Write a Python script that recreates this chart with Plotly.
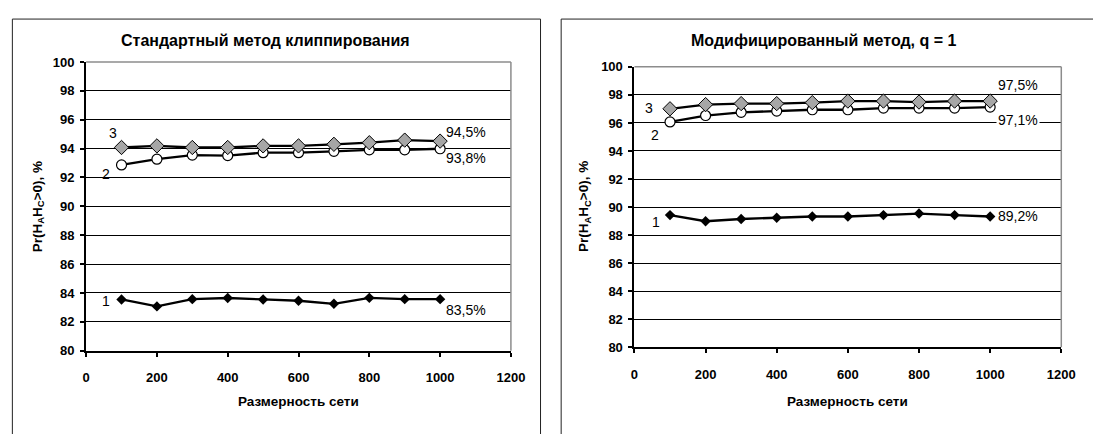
import plotly.graph_objects as go

W, H = 1093, 434

x_vals = [100, 200, 300, 400, 500, 600, 700, 800, 900, 1000]

# Left panel: standard clipping method
std_s1 = [83.55, 83.07, 83.57, 83.65, 83.55, 83.46, 83.25, 83.66, 83.57, 83.57]
std_s2 = [92.87, 93.27, 93.55, 93.52, 93.72, 93.72, 93.81, 93.92, 93.92, 93.99]
std_s3 = [94.08, 94.19, 94.08, 94.08, 94.19, 94.19, 94.30, 94.41, 94.59, 94.52]

# Right panel: modified method, q = 1
mod_s1 = [89.43, 88.99, 89.15, 89.24, 89.33, 89.33, 89.43, 89.54, 89.43, 89.33]
mod_s2 = [96.07, 96.53, 96.76, 96.85, 96.94, 96.94, 97.06, 97.06, 97.06, 97.13]
mod_s3 = [97.01, 97.31, 97.38, 97.38, 97.45, 97.56, 97.56, 97.49, 97.56, 97.56]

titles = ["Стандартный метод клиппирования", "Модифицированный метод, q = 1"]
x_title = "Размерность сети"
y_title = "Pr(H<sub>A</sub>H<sub>C</sub>>0), %"

y_ticks = [80, 82, 84, 86, 88, 90, 92, 94, 96, 98, 100]
x_ticks = [0, 200, 400, 600, 800, 1000, 1200]

FONT = "Liberation Sans, Arial, sans-serif"

def px_x(p):
    return p / W

def px_y(p):
    return 1 - p / H

# plot-area pixel boxes (left, right, top, bottom)
boxes = [(83.5, 515.4, 57, 356), (641, 1075, 62, 352.5)]

fig = go.Figure()

def add_series(xa, ya, s1, s2, s3):
    fig.add_trace(go.Scatter(x=x_vals, y=s2, xaxis=xa, yaxis=ya, mode="lines+markers",
                             line=dict(color="black", width=2.3),
                             marker=dict(symbol="circle", size=10, color="white",
                                         line=dict(color="black", width=1.2)),
                             showlegend=False))
    fig.add_trace(go.Scatter(x=x_vals, y=s3, xaxis=xa, yaxis=ya, mode="lines+markers",
                             line=dict(color="black", width=2.3),
                             marker=dict(symbol="diamond", size=11, color="#a6a6a6",
                                         line=dict(color="black", width=1)),
                             showlegend=False))
    fig.add_trace(go.Scatter(x=x_vals, y=s1, xaxis=xa, yaxis=ya, mode="lines+markers",
                             line=dict(color="black", width=2.3),
                             marker=dict(symbol="diamond", size=8, color="black"),
                             showlegend=False))

add_series("x", "y", std_s1, std_s2, std_s3)
add_series("x2", "y2", mod_s1, mod_s2, mod_s3)

axis_common_x = dict(range=[0, 1200], tickvals=x_ticks, showgrid=False, zeroline=False,
                     showline=True, linecolor="black", linewidth=2,
                     ticks="outside", ticklen=4, tickwidth=2, tickcolor="black",
                     tickfont=dict(family=FONT, size=13, color="black", weight="bold"),
                     ticklabelstandoff=10)
axis_common_y = dict(range=[80, 100], tickvals=y_ticks, showgrid=True, gridcolor="black",
                     gridwidth=1, zeroline=False,
                     showline=True, linecolor="black", linewidth=2,
                     ticks="outside", ticklen=4, tickwidth=2, tickcolor="black",
                     tickfont=dict(family=FONT, size=13, color="black", weight="bold"),
                     ticklabelstandoff=3)

layout = dict(width=W, height=H, margin=dict(l=0, r=0, t=0, b=0),
              paper_bgcolor="white", plot_bgcolor="white", showlegend=False)
for i, (l, r, t, b) in enumerate(boxes):
    sfx = "" if i == 0 else str(i + 1)
    layout["xaxis" + sfx] = dict(axis_common_x, domain=[px_x(l), px_x(r)],
                                 anchor="y" + sfx)
    layout["yaxis" + sfx] = dict(axis_common_y, domain=[px_y(b), px_y(t)],
                                 anchor="x" + sfx)
fig.update_layout(**layout)

shapes = []
# panel borders
shapes.append(dict(type="rect", xref="paper", yref="paper", x0=px_x(8.5), x1=px_x(545.5),
                   y0=px_y(12.5), y1=px_y(460), line=dict(color="#222222", width=1),
                   layer="below"))
shapes.append(dict(type="rect", xref="paper", yref="paper", x0=px_x(566.5), x1=px_x(1120),
                   y0=px_y(12.5), y1=px_y(460), line=dict(color="#222222", width=1),
                   layer="below"))
# gray top and right edges of plot areas
for i in range(2):
    sfx = "" if i == 0 else str(i + 1)
    xr, yr = "x" + sfx, "y" + sfx
    shapes.append(dict(type="line", xref=xr + " domain", yref=yr + " domain",
                       x0=0, x1=1, y0=1, y1=1, line=dict(color="#8c8c8c", width=1.5),
                       layer="above"))
    shapes.append(dict(type="line", xref=xr + " domain", yref=yr + " domain",
                       x0=1, x1=1, y0=0, y1=1, line=dict(color="#8c8c8c", width=1.5),
                       layer="above"))
fig.update_layout(shapes=shapes)

ann = []
title_pos = [(266, 35), (834, 35)]
xt_pos = [(299, 409), (858, 409)]
yt_pos = [(35, 207), (591, 207)]
for i in range(2):
    ann.append(dict(text=titles[i], xref="paper", yref="paper",
                    x=px_x(title_pos[i][0]), y=px_y(title_pos[i][1]),
                    showarrow=False, xanchor="center", yanchor="middle",
                    font=dict(family=FONT, size=16, color="black", weight="bold")))
    ann.append(dict(text=x_title, xref="paper", yref="paper",
                    x=px_x(xt_pos[i][0]), y=px_y(xt_pos[i][1]),
                    showarrow=False, xanchor="center", yanchor="middle",
                    font=dict(family=FONT, size=13.5, color="black", weight="bold")))
    ann.append(dict(text=y_title, xref="paper", yref="paper",
                    x=px_x(yt_pos[i][0]), y=px_y(yt_pos[i][1]), textangle=-90,
                    showarrow=False, xanchor="center", yanchor="middle",
                    font=dict(family=FONT, size=13.5, color="black", weight="bold")))

labels_left = [("3", 76, 95.05), ("2", 57, 92.24), ("1", 57, 83.41),
               ("94,5%", 1074, 95.18), ("93,8%", 1074, 93.38), ("83,5%", 1074, 82.81)]
labels_right = [("3", 41, 97.08), ("2", 58, 95.15), ("1", 61, 88.94),
                ("97,5%", 1078, 98.69), ("97,1%", 1078, 96.21), ("89,2%", 1078, 89.36)]
for sfx, labels in (("", labels_left), ("2", labels_right)):
    for txt, lx, ly in labels:
        a = dict(text=txt, xref="x" + sfx, yref="y" + sfx, x=lx, y=ly,
                 showarrow=False, xanchor="center", yanchor="middle",
                 font=dict(family=FONT, size=14, color="black"))
        if txt == "97,1%":
            a["bgcolor"] = "white"
        ann.append(a)
fig.update_layout(annotations=ann)

fig.write_html("out.html")
